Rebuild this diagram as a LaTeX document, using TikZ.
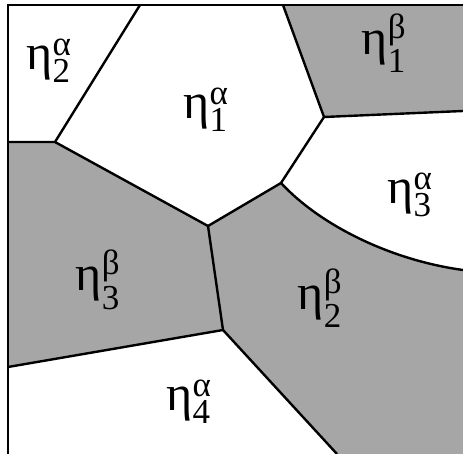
\documentclass[tikz,border=0pt]{standalone}
\usepackage{amsmath}
\usepackage{fontspec}
\setmainfont{Liberation Serif}
\usetikzlibrary{calc}
\definecolor{grainfill}{RGB}{166,166,166}
\newcommand{\grainlbl}[2]{$\text{η}^{\text{#1}}_{\text{#2}}$}

\begin{document}
\begin{tikzpicture}[x=1pt, y=-1pt, line width=2.4pt,
  grainname/.style={font=\fontsize{50}{56}\selectfont, inner sep=0pt}]
\useasboundingbox (0,0) rectangle (463,454);
%--- frame corners ---
\coordinate (tl) at (8,5);
\coordinate (tr) at (463,5);
\coordinate (bl) at (8,454);
\coordinate (br) at (463,454);
%--- boundary ends on the frame ---
\coordinate (ntop) at (140,5);
\coordinate (btop) at (283,5);
\coordinate (eright) at (463,111);
\coordinate (cright) at (463,270);
\coordinate (wleft) at (8,142);
\coordinate (wleft2) at (8,367);
\coordinate (bbot) at (337,454);
%--- triple junctions ---
\coordinate (jw) at (55,142);
\coordinate (jc) at (208,226);
\coordinate (jne) at (324,117);
\coordinate (jf) at (281,183);
\coordinate (js) at (223,330);
% beta grains
\fill[grainfill] (btop) -- (jne) -- (eright) -- (tr) -- cycle;
\fill[grainfill] (wleft) -- (jw) -- (jc) -- (js) -- (wleft2) -- cycle;
\fill[grainfill] (jc) -- (jf) .. controls (320,225) and (390,260) .. (cright)
  -- (br) -- (bbot) -- (js) -- cycle;
% grain boundaries
\draw (bl) -- (tl) -- (tr);
\draw (ntop) -- (jw) -- (wleft);
\draw (jw) -- (jc) -- (jf) -- (jne) -- (btop);
\draw (jne) -- (eright);
\draw (jf) .. controls (320,225) and (390,260) .. (cright);
\draw (jc) -- (js) -- (wleft2);
\draw (js) -- (bbot);
% labels
\node[grainname] (a2) at (49,61) {\grainlbl{α}{2}};
\node[grainname] (a1) at (206,110) {\grainlbl{α}{1}};
\node[grainname] (b1) at (384,43) {\grainlbl{β}{1}};
\node[grainname] (a3) at (410,195) {\grainlbl{α}{3}};
\node[grainname] (b3) at (98,280) {\grainlbl{β}{3}};
\node[grainname] (b2) at (320,298) {\grainlbl{β}{2}};
\node[grainname] (a4) at (189,402) {\grainlbl{α}{4}};
\end{tikzpicture}
\end{document}
